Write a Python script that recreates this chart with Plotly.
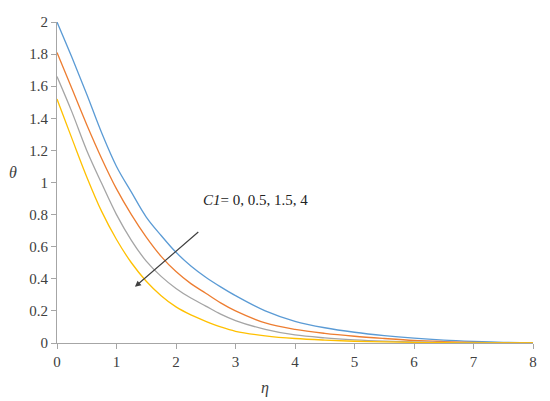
import plotly.graph_objects as go

# === data ===
eta = [0, 0.25, 0.5, 0.75, 1, 1.25, 1.5, 1.75, 2, 2.25, 2.5, 2.75, 3,
       3.5, 4, 4.5, 5, 5.5, 6, 6.5, 7, 7.5, 8]

theta_c0 = [2.0, 1.78, 1.55, 1.31, 1.10, 0.94, 0.785, 0.67, 0.565, 0.48, 0.41, 0.35, 0.295,
            0.20, 0.135, 0.095, 0.067, 0.046, 0.03, 0.018, 0.01, 0.004, 0.0]
theta_c05 = [1.81, 1.585, 1.36, 1.15, 0.96, 0.80, 0.66, 0.54, 0.445, 0.37, 0.31, 0.25, 0.20,
             0.125, 0.085, 0.06, 0.042, 0.028, 0.016, 0.009, 0.004, 0.002, 0.0]
theta_c15 = [1.66, 1.44, 1.20, 0.995, 0.80, 0.64, 0.51, 0.415, 0.34, 0.28, 0.23, 0.18, 0.14,
             0.085, 0.05, 0.032, 0.02, 0.012, 0.007, 0.004, 0.002, 0.001, 0.0]
theta_c4 = [1.52, 1.275, 1.035, 0.82, 0.645, 0.50, 0.385, 0.295, 0.225, 0.175, 0.135, 0.10, 0.073,
            0.045, 0.028, 0.018, 0.011, 0.007, 0.004, 0.002, 0.001, 0.0005, 0.0]

series = [
    ("C1=0", theta_c0, "#5B9BD5"),
    ("C1=0.5", theta_c05, "#ED7D31"),
    ("C1=1.5", theta_c15, "#A5A5A5"),
    ("C1=4", theta_c4, "#FFC000"),
]

x_ticks = [0, 1, 2, 3, 4, 5, 6, 7, 8]
y_ticks = [0, 0.2, 0.4, 0.6, 0.8, 1, 1.2, 1.4, 1.6, 1.8, 2]
y_labels = ["0", "0.2", "0.4", "0.6", "0.8", "1", "1.2", "1.4", "1.6", "1.8", "2"]

FONT = "Liberation Serif, Times New Roman, serif"

fig = go.Figure()
for name, vals, color in series:
    fig.add_trace(go.Scatter(
        x=eta, y=vals, mode="lines", name=name,
        line=dict(color=color, width=1.3, shape="spline", smoothing=1),
    ))

axis_style = dict(
    showgrid=False, zeroline=False, showline=True, linecolor="#A6A6A6",
    linewidth=1.2, ticks="outside", ticklen=5, tickcolor="#A6A6A6",
    ticklabeloverflow="allow",
    tickfont=dict(family=FONT, size=15, color="#404040"),
)

# page body has an 8px margin, so the figure is a bit smaller than the window
fig.update_layout(
    width=542, height=393,
    margin=dict(l=49, r=17, t=6, b=58),
    paper_bgcolor="white", plot_bgcolor="white",
    showlegend=False,
    font=dict(family=FONT),
    xaxis=dict(range=[0, 8], tickvals=x_ticks, **axis_style),
    yaxis=dict(range=[0, 2], tickvals=y_ticks, ticktext=y_labels, **axis_style),
)

# axis titles (horizontal, like the original)
fig.add_annotation(x=-0.093, y=0.53, xref="paper", yref="paper", text="<i>θ</i>",
                   xanchor="center", yanchor="middle", showarrow=False,
                   font=dict(family=FONT, size=16, color="#404040"))
fig.add_annotation(x=0.437, y=-0.14, xref="paper", yref="paper", text="<i>η</i>",
                   xanchor="center", yanchor="middle", showarrow=False,
                   font=dict(family=FONT, size=16, color="#404040"))

# label + arrow
fig.add_annotation(x=2.42, y=0.89, xref="x", yref="y", xanchor="left",
                   text="<i>C1</i>= 0, 0.5, 1.5, 4", showarrow=False,
                   font=dict(family=FONT, size=15, color="#222222"))
fig.add_annotation(x=1.31, y=0.35, ax=2.40, ay=0.70, xref="x", yref="y",
                   axref="x", ayref="y", text="", showarrow=True,
                   arrowhead=2, arrowsize=1, arrowwidth=1.2, arrowcolor="#404040")

fig.write_html("out.html")
